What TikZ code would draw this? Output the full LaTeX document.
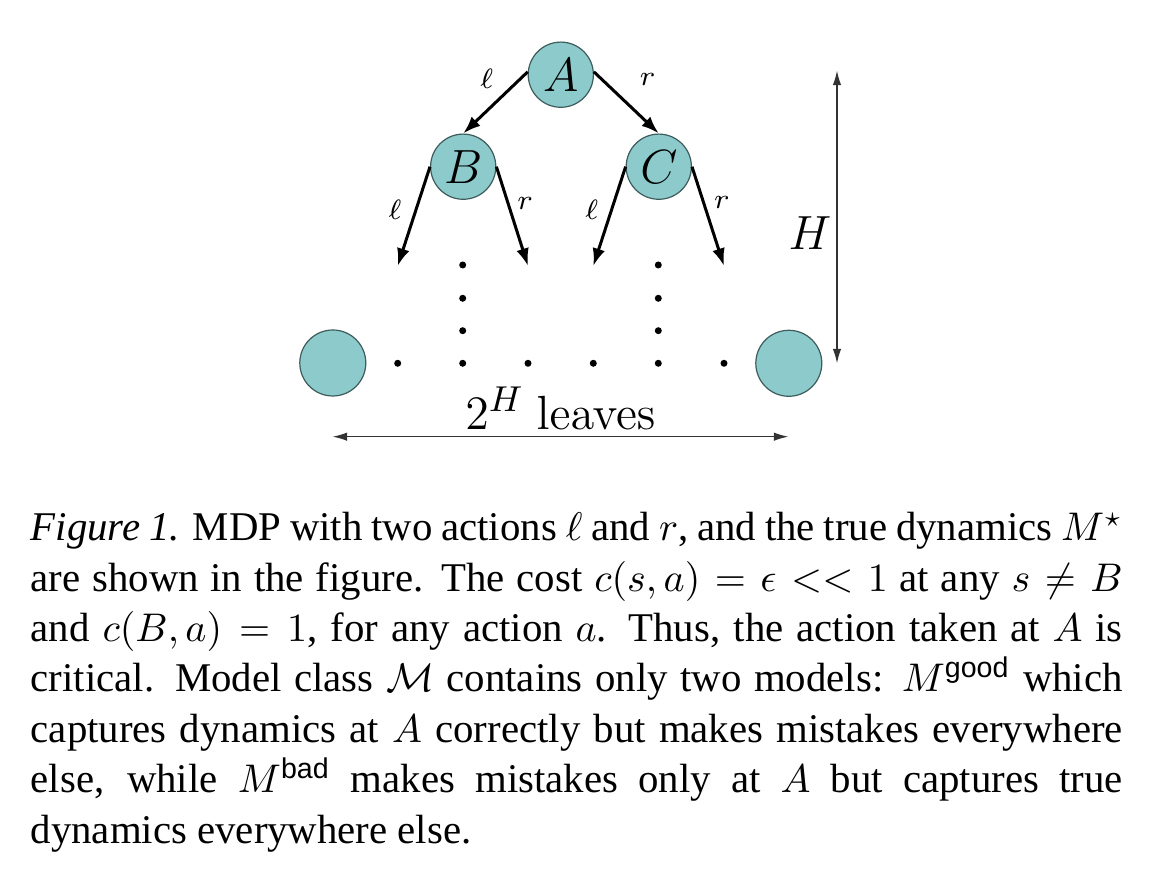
\documentclass[tikz,border=0pt]{standalone}
\usepackage{amsmath}
\usepackage[no-math]{fontspec}
\setmainfont{Liberation Serif}
\setsansfont{Liberation Sans}
\usetikzlibrary{arrows.meta}
\definecolor{nodefill}{HTML}{8CCACB}
\definecolor{nodeedge}{HTML}{3E5C5C}
\begin{document}
\begin{tikzpicture}[x=0.25pt,y=-0.25pt,
  state/.style={circle, fill=nodefill, draw=nodeedge, line width=0.3pt, minimum size=16.3pt, inner sep=0pt, font=\fontsize{11.8}{12}\selectfont},
  leaf/.style={state, minimum size=16.5pt},
  dotnode/.style={circle, fill=black, inner sep=0pt, minimum size=1.75pt},
  edgearrow/.style={-{Latex[length=4.4pt,width=3.2pt]}, line width=0.75pt},
  lbl/.style={font=\fontsize{7.5}{8}\selectfont, inner sep=0pt},
  dimarrow/.style={{Latex[length=3.6pt,width=2.1pt]}-{Latex[length=3.6pt,width=2.1pt]}, line width=0.3pt, draw=black!80},
  bigtext/.style={font=\fontsize{12}{13}\selectfont, inner sep=0pt},
  capline/.style={anchor=base west, inner sep=0pt, font=\fontsize{10.2}{12.6}\selectfont}
]
\useasboundingbox (0,0) rectangle (1170,874);

% tree nodes
\node[state] (A) at (560.8,74.7) {$A$};
\node[state] (B) at (463.2,166.7) {$B$};
\node[state] (C) at (658.8,166.7) {$C$};
\node[leaf] (L1) at (332.8,363) {};
\node[leaf] (L2) at (788.8,363.3) {};

% arrow ends
\coordinate (e1) at (397.7,266);
\coordinate (e2) at (528,266);
\coordinate (e3) at (593.3,266);
\coordinate (e4) at (724,266);

\draw[edgearrow] (A.175) -- (B.north);
\draw[edgearrow] (A.5) -- (C.north);
\draw[edgearrow] (B.west) -- (e1);
\draw[edgearrow] (B.east) -- (e2);
\draw[edgearrow] (C.west) -- (e3);
\draw[edgearrow] (C.east) -- (e4);

% edge labels
\node[lbl] (lA) at (486.7,78.3) {$\ell$};
\node[lbl] (rA) at (647.5,79) {$r$};
\node[lbl] (lB) at (395,210) {$\ell$};
\node[lbl] (rB) at (525,203) {$r$};
\node[lbl] (lC) at (591.7,210) {$\ell$};
\node[lbl] (rC) at (721.7,202) {$r$};

% dots
\node[dotnode] (d1) at (397.7,363.3) {};
\node[dotnode] (d2) at (462.7,363.3) {};
\node[dotnode] (d3) at (528,363.3) {};
\node[dotnode] (d4) at (593.3,363.3) {};
\node[dotnode] (d5) at (658.3,363.3) {};
\node[dotnode] (d6) at (724,363.3) {};
\node[dotnode] (v1) at (462.7,265) {};
\node[dotnode] (v2) at (462.7,298.3) {};
\node[dotnode] (v3) at (462.7,330.7) {};
\node[dotnode] (w1) at (658.3,265) {};
\node[dotnode] (w2) at (658.3,298.3) {};
\node[dotnode] (w3) at (658.3,330.7) {};

% H dimension
\coordinate (h1) at (837,70.7);
\coordinate (h2) at (837,363.3);
\draw[dimarrow] (h1) -- (h2);
\node[bigtext] (Hlab) at (810,233) {$H$};

% leaves dimension
\coordinate (b1) at (332.7,436.7);
\coordinate (b2) at (788.3,436.7);
\draw[dimarrow] (b1) -- (b2);
\node[bigtext, font=\fontsize{12.2}{13}\selectfont, anchor=base] (leaves) at (560.5,429.3) {$2^H\ \mathrm{leaves}$};

% caption
\node[capline] (cap1) at (30,540.7) {\makebox[273pt][s]{\textit{Figure 1.} MDP with two actions $\ell$ and $r$, and the true dynamics $M^\star$}};
\node[capline] (cap2) at (30,591.1) {\makebox[273pt][s]{are shown in the figure. The cost $c(s,a)=\epsilon<<1$ at any $s\neq B$}};
\node[capline] (cap3) at (30,641.5) {\makebox[273pt][s]{and $c(B,a)=1$, for any action $a$. Thus, the action taken at $A$ is}};
\node[capline] (cap4) at (30,691.9) {\makebox[273pt][s]{critical. Model class $\mathcal{M}$ contains only two models: $M^{\textsf{good}}$ which}};
\node[capline] (cap5) at (30,742.3) {\makebox[273pt][s]{captures dynamics at $A$ correctly but makes mistakes everywhere}};
\node[capline] (cap6) at (30,792.7) {\makebox[273pt][s]{else, while $M^{\textsf{bad}}$ makes mistakes only at $A$ but captures true}};
\node[capline] (cap7) at (30,843.1) {dynamics everywhere else.};
\end{tikzpicture}
\end{document}
